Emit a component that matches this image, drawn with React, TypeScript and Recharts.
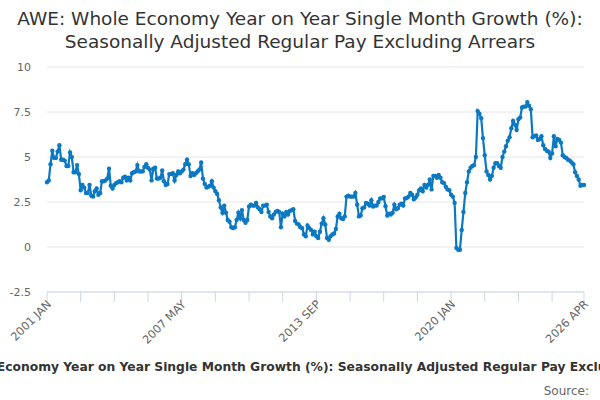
import { CartesianGrid, Line, LineChart, XAxis, YAxis } from "recharts"

const monthNames = ["JAN", "FEB", "MAR", "APR", "MAY", "JUN", "JUL", "AUG", "SEP", "OCT", "NOV", "DEC"]
const firstYear = 2001

// single month yoy growth (%), grouped by period
const growth2001to2005 = [
  3.6, 3.7, 4.6, 5.35, 4.95, 4.95, 5.3, 5.65, 4.85, 4.85, 4.8, 4.5,
  4.5, 5.25, 5.0, 4.15, 4.15, 4.55, 4.05, 3.15, 3.45, 3.3, 3.0, 3.0,
  3.45, 2.85, 2.8, 3.1, 3.25, 2.9, 3.0, 3.65, 3.65, 3.7, 3.8, 4.35,
  3.4, 3.25, 3.45, 3.55, 3.6, 3.65, 3.6, 3.85, 3.9, 3.7, 3.85, 3.7,
  4.1, 4.15, 4.2, 4.55, 4.2, 4.2, 4.2, 4.45, 4.6, 4.4, 4.3, 3.7,
]
const growth2006to2010 = [
  4.35, 4.4, 3.8, 3.8, 3.85, 4.25, 3.65, 3.45, 3.5, 4.05, 4.05, 4.1,
  3.7, 4.0, 4.2, 4.1, 4.2, 4.3, 4.6, 4.85, 4.6, 3.95, 4.1, 4.0,
  4.1, 4.2, 4.3, 4.7, 3.8, 3.5, 3.3, 3.35, 3.4, 3.65, 3.3, 3.1,
  2.95, 2.6, 2.2, 1.9, 2.3, 1.9, 1.5, 1.4, 1.1, 1.05, 1.1, 1.5,
  1.9, 1.6, 2.05, 1.5, 1.35, 1.5, 2.25, 2.35, 2.3, 2.3, 2.45, 2.2,
]
const growth2011to2015 = [
  2.1, 1.95, 2.3, 2.3, 2.35, 1.95, 1.7, 1.6, 1.8, 1.95, 2.0, 1.95,
  1.1, 1.85, 1.7, 1.95, 1.8, 2.0, 2.05, 2.1, 1.45, 1.3, 1.25, 1.1,
  1.05, 0.7, 0.6, 1.2, 1.05, 0.95, 0.7, 0.85, 0.6, 0.5, 0.85, 1.3,
  1.6, 1.25, 0.5, 0.4, 0.6, 0.7, 0.75, 1.0, 1.7, 1.85, 1.6, 1.55,
  1.7, 2.8, 2.85, 2.8, 2.8, 2.8, 3.0, 2.35, 1.7, 1.75, 2.15, 2.2,
]
const growth2016to2020 = [
  2.45, 2.4, 2.3, 2.6, 2.25, 2.3, 2.3, 2.5, 2.7, 2.7, 2.78, 2.26,
  1.75, 1.85, 1.8, 1.9, 2.35, 2.1, 2.15, 2.35, 2.4, 2.3, 2.7, 2.72,
  2.8, 3.0, 2.9, 2.65, 2.75, 2.9, 3.15, 3.25, 3.1, 3.45, 3.3, 3.45,
  3.75, 3.2, 3.95, 3.95, 3.85, 4.0, 3.85, 3.6, 3.55, 3.35, 3.2, 3.15,
  2.9, 2.8, 2.45, -0.05, -0.15, -0.15, 0.95, 1.95, 3.0, 3.6, 4.2, 4.4,
]
const growth2021to2026 = [
  4.5, 4.55, 5.0, 7.55, 7.4, 7.15, 6.05, 5.1, 4.2, 4.0, 3.75, 3.95,
  4.4, 4.65, 4.65, 4.5, 4.4, 5.0, 5.3, 5.6, 5.9, 6.1, 6.6, 7.0,
  6.8, 6.5, 7.1, 7.2, 7.75, 7.8, 7.8, 8.05, 7.85, 7.65, 6.1, 6.15,
  6.2, 5.95, 6.0, 6.15, 5.65, 5.45, 5.35, 5.3, 4.95, 5.2, 6.15, 5.6,
  6.0, 5.95, 5.8, 5.1, 5.0, 4.95, 4.85, 4.8, 4.7, 4.6, 4.15, 3.95,
  3.75, 3.4, 3.45, 3.45,
]

const yTicks = [-2.5, 0, 2.5, 5, 7.5, 10]
const tickIndexes = [0, 19, 38, 57, 76, 95, 114, 133, 152, 171, 190, 209, 228, 247, 266, 285, 303]
const labelIndexes = [0, 76, 152, 228, 303]

const title1 = "AWE: Whole Economy Year on Year Single Month Growth (%):"
const title2 = "Seasonally Adjusted Regular Pay Excluding Arrears"
const caption = "AWE: Whole Economy Year on Year Single Month Growth (%): Seasonally Adjusted Regular Pay Excluding Arrears"

const values = [
  ...growth2001to2005,
  ...growth2006to2010,
  ...growth2011to2015,
  ...growth2016to2020,
  ...growth2021to2026,
]
const monthLabel = (i: number) => `${firstYear + Math.floor(i / 12)} ${monthNames[i % 12]}`
const data = values.map((v, i) => ({ month: monthLabel(i), value: v }))
const xTicks = tickIndexes.map(monthLabel)
const xLabels = labelIndexes.map(monthLabel)

const font = "'DejaVu Sans', Verdana, sans-serif"
const blue = "#0b78c2"

function MonthTick(props: any) {
  const { x, y, payload } = props
  if (!xLabels.includes(payload.value)) return null
  const ax = x + 5
  const ay = y + 1
  return (
    <text x={ax} y={ay} transform={`rotate(-45 ${ax} ${ay})`} textAnchor="end" fontSize={11.3} fill="#666666" fontFamily={font}>
      {payload.value}
    </text>
  )
}

export default function App() {
  return (
    <div style={{ position: "absolute", left: 0, top: 0, width: 600, height: 400, overflow: "hidden", background: "#fff" }}>
      <LineChart width={600} height={400} data={data} margin={{ top: 67, right: 16, left: 0, bottom: 0 }}>
        <CartesianGrid vertical={false} stroke="#e6e6e6" />
        <XAxis
          dataKey="month"
          ticks={xTicks}
          interval={0}
          height={108}
          tickSize={10}
          stroke="#ccd6eb"
          tickLine={{ stroke: "#ccd6eb" }}
          axisLine={{ stroke: "#ccd6eb" }}
          tick={<MonthTick />}
        />
        <YAxis
          domain={[-2.5, 10]}
          ticks={yTicks}
          width={47}
          axisLine={false}
          tickLine={false}
          tickSize={0}
          tickMargin={16}
          tick={{ fontSize: 11, fill: "#666666", fontFamily: font }}
        />
        <Line
          type="linear"
          dataKey="value"
          stroke={blue}
          strokeWidth={2.2}
          dot={{ r: 2.2, fill: blue, stroke: blue, strokeWidth: 0 }}
          isAnimationActive={false}
        />
      </LineChart>
      <svg width={600} height={400} style={{ position: "absolute", left: 0, top: 0, pointerEvents: "none" }}>
        <text x={300} y={25} textAnchor="middle" fontSize={18.5} fill="#333333" fontFamily={font}>{title1}</text>
        <text x={300} y={48} textAnchor="middle" fontSize={18.5} fill="#333333" fontFamily={font}>{title2}</text>
        <text x={301} y={371} textAnchor="middle" fontSize={12.3} fontWeight="bold" fill="#333333" fontFamily={font}>{caption}</text>
        <text x={589} y={395} textAnchor="end" fontSize={12} fill="#666666" fontFamily={font}>Source:</text>
      </svg>
    </div>
  )
}
